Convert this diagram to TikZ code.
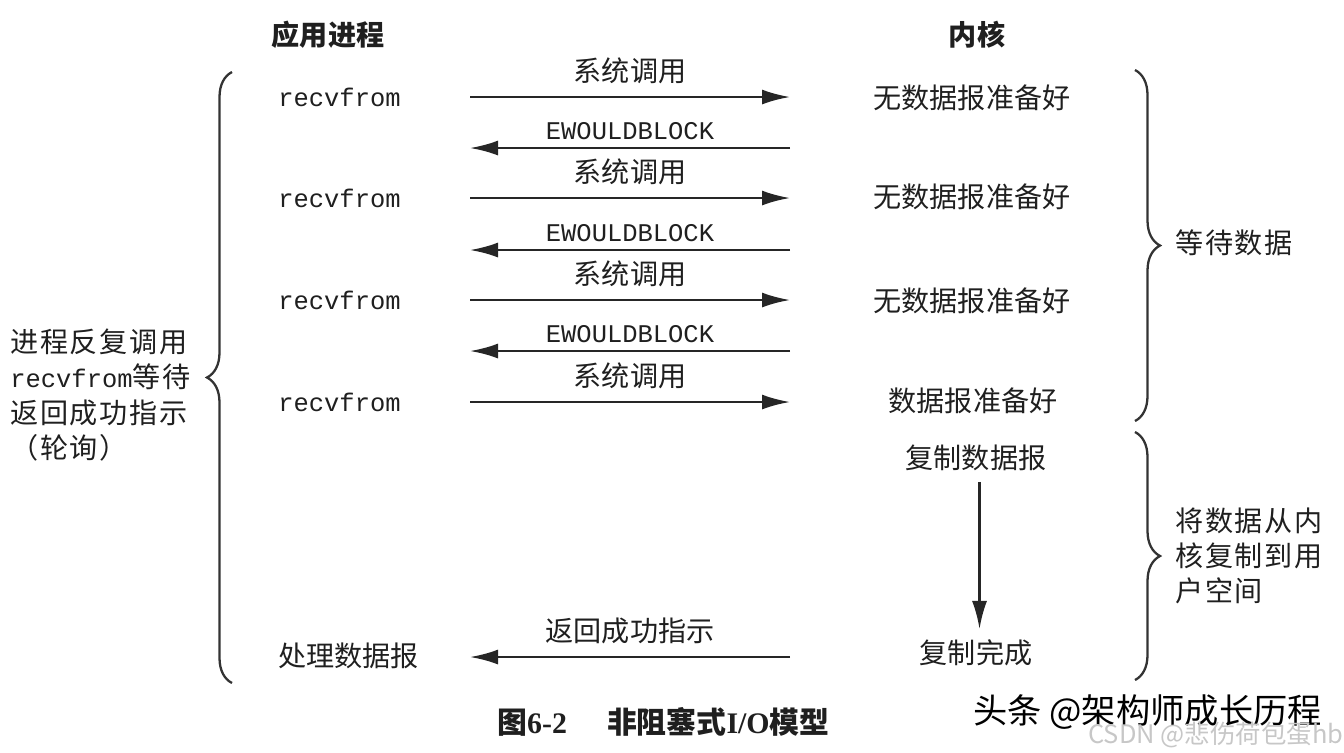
\documentclass[tikz,border=0pt]{standalone}
\usepackage{fontspec}
\setmainfont{Liberation Serif}
\setmonofont{Liberation Mono}
\newfontfamily\cjk{Noto Sans CJK SC}
\newfontfamily\cjkwide{Noto Sans CJK SC}[LetterSpace=6]
\usetikzlibrary{arrows.meta, positioning, decorations.pathreplacing}
\tikzset{
    x=0.02cm, y=-0.02cm, % one unit is one pixel of the scan, y runs down
    >={Latex[length=0.56cm, width=0.3cm]}, % long filled heads
    call/.style={->, line width=1.4pt, draw=black!85}, % the messages between the two sides
    word/.style={font=\cjk\fontsize{16}{19}\selectfont, text=black!88, inner sep=0pt},
    head/.style={word, font=\cjk\bfseries\fontsize{16}{19}\selectfont},
    code/.style={font=\ttfamily\fontsize{14.5}{17}\selectfont, text=black!88, inner sep=0pt},
    side/.style={font=\cjkwide\fontsize{16}{20}\selectfont, text=black!88, align=left, inner sep=0pt, anchor=west},
    bracey/.style={decorate, decoration={brace, amplitude=0.5cm, aspect=0.5}, line width=1.3pt, draw=black!80},
}

\begin{document}
\begin{tikzpicture}
    \useasboundingbox (0,0) rectangle (1344,752);

    % the two columns
    \node[head] (app) at (328,35) {应用进程};
    \node[head] (kern) at (977,35) {内核};

    % end points of the message arrows
    \foreach \y/\n in {97/1, 198/2, 300/3, 402/4, 148/5, 250/6, 351/7, 657/8} {
        \coordinate (L\n) at (470,\y);
        \coordinate (R\n) at (790,\y);
    }

    \node[code, anchor=west] (r1) at (278,97) {recvfrom};
    \node[code, anchor=west] (r2) at (278,198) {recvfrom};
    \node[code, anchor=west] (r3) at (278,300) {recvfrom};
    \node[code, anchor=west] (r4) at (278,402) {recvfrom};
    \node[word, anchor=west] (use) at (278,656) {处理数据报};

    \node[word] (k1) at (972,98) {无数据报准备好};
    \node[word] (k2) at (972,197) {无数据报准备好};
    \node[word] (k3) at (972,301) {无数据报准备好};
    \node[word] (k4) at (973,401) {数据报准备好};
    \node[word] (cp1) at (976,458) {复制数据报};
    \node[word] (cp2) at (976,653) {复制完成};

    \draw[call] (L1) -- node[word, above=6.5pt]{系统调用} (R1);
    \draw[call] (R5) -- node[code, above=4pt]{EWOULDBLOCK} (L5);
    \draw[call] (L2) -- node[word, above=6.5pt]{系统调用} (R2);
    \draw[call] (R6) -- node[code, above=4pt]{EWOULDBLOCK} (L6);
    \draw[call] (L3) -- node[word, above=6.5pt]{系统调用} (R3);
    \draw[call] (R7) -- node[code, above=4pt]{EWOULDBLOCK} (L7);
    \draw[call] (L4) -- node[word, above=6.5pt]{系统调用} (R4);
    \draw[call] (R8) -- node[word, above=7pt]{返回成功指示} (L8);
    \draw[call] ([xshift=2pt, yshift=-6pt]cp1.south) -- ([xshift=2pt, yshift=6pt]cp2.north);

    % braces and their notes
    \coordinate (lbT) at (232,72);
    \coordinate (lbB) at (232,683);
    \coordinate (wT) at (1135,70);
    \coordinate (wB) at (1135,421);
    \coordinate (cT) at (1135,432);
    \coordinate (cB) at (1135,680);
    \draw[bracey] (lbB) -- (lbT);
    \draw[bracey] (wT) -- (wB);
    \draw[bracey] (cT) -- (cB);

    \node[side] (poll) at (10,395) {进程反复调用\\{\ttfamily\fontsize{14.5}{17}\selectfont recvfrom}等待\\返回成功指示\\（轮询）};
    \node[side] (wait) at (1175,243) {等待数据};
    \node[side] (copy) at (1175,556) {将数据从内\\核复制到用\\户空间};

    % caption and the marks left on the scan
    \node[word, anchor=west, font=\bfseries\fontsize{17}{20}\selectfont] (cap) at (497,722)
        {{\cjk 图}6-2\hspace{0.8cm}{\cjk 非阻塞式}I/O{\cjk 模型}};
    \node[word, anchor=west, font=\cjk\fontsize{19.5}{22}\selectfont, text=black] (mark) at (973,712) {头条 @架构师成长历程};
    \node[word, anchor=west, font=\cjk\fontsize{14.5}{17}\selectfont, text=black!22] (csdn) at (1088,735) {CSDN @悲伤荷包蛋hb};
\end{tikzpicture}
\end{document}
